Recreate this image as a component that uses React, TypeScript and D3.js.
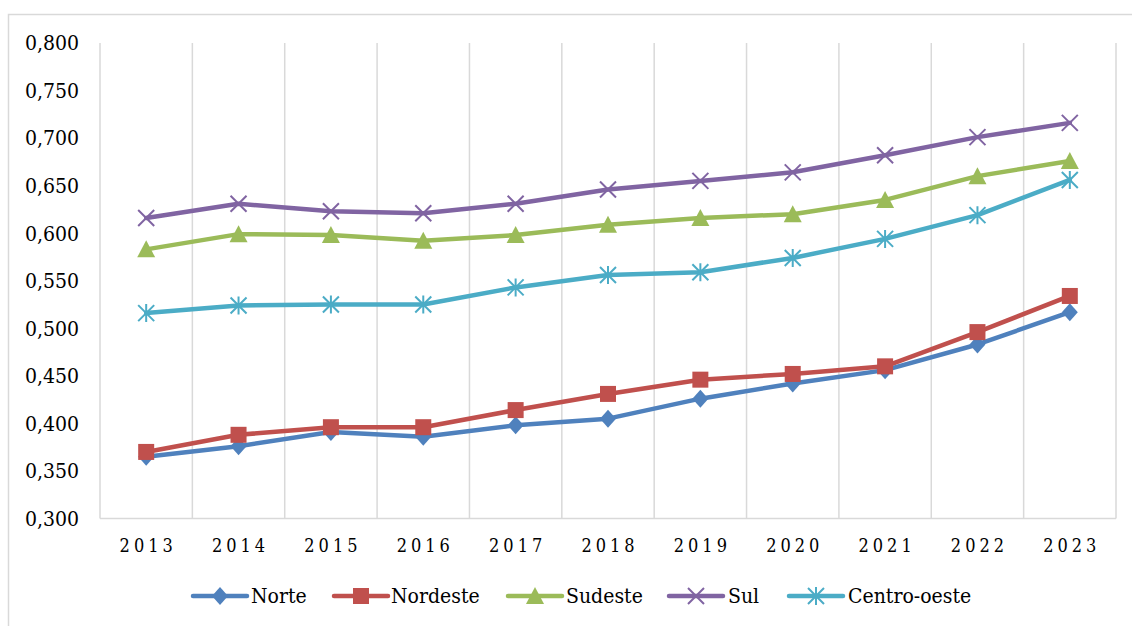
import React from "react";
import * as d3 from "d3";

const years = ["2013", "2014", "2015", "2016", "2017", "2018", "2019", "2020", "2021", "2022", "2023"];
const norte = [0.365, 0.376, 0.391, 0.386, 0.398, 0.405, 0.426, 0.442, 0.456, 0.483, 0.517];
const nordeste = [0.370, 0.388, 0.396, 0.396, 0.414, 0.431, 0.446, 0.452, 0.460, 0.496, 0.534];
const sudeste = [0.583, 0.599, 0.598, 0.592, 0.598, 0.609, 0.616, 0.620, 0.635, 0.660, 0.676];
const sul = [0.616, 0.631, 0.623, 0.621, 0.631, 0.646, 0.655, 0.664, 0.682, 0.701, 0.716];
const centroOeste = [0.516, 0.524, 0.525, 0.525, 0.543, 0.556, 0.559, 0.574, 0.594, 0.619, 0.656];
const yTicks = [0.3, 0.35, 0.4, 0.45, 0.5, 0.55, 0.6, 0.65, 0.7, 0.75, 0.8];

type Marker = "diamond" | "square" | "triangle" | "x" | "star";

const series: { name: string; values: number[]; color: string; marker: Marker }[] = [
  { name: "Norte", values: norte, color: "#4F81BD", marker: "diamond" },
  { name: "Nordeste", values: nordeste, color: "#C0504D", marker: "square" },
  { name: "Sudeste", values: sudeste, color: "#9BBB59", marker: "triangle" },
  { name: "Sul", values: sul, color: "#8064A2", marker: "x" },
  { name: "Centro-oeste", values: centroOeste, color: "#4BACC6", marker: "star" },
];

const W = 1132;
const H = 626;
const plot = { left: 100, right: 1116, top: 43, bottom: 518.5 };
const textStyle = { fontFamily: "'DejaVu Serif', serif", fontStretch: "condensed" as const };

function MarkerShape({ type, x, y, color }: { type: Marker; x: number; y: number; color: string }) {
  const s = 8;
  switch (type) {
    case "diamond":
      return <path d={`M${x},${y - s - 1}L${x + s},${y}L${x},${y + s + 1}L${x - s},${y}Z`} fill={color} />;
    case "square":
      return <rect x={x - s} y={y - s} width={2 * s} height={2 * s} fill={color} />;
    case "triangle":
      return <path d={`M${x},${y - s - 1}L${x + s + 1},${y + s}L${x - s - 1},${y + s}Z`} fill={color} />;
    case "x":
      return (
        <path d={`M${x - s},${y - s}L${x + s},${y + s}M${x - s},${y + s}L${x + s},${y - s}`} stroke={color} strokeWidth={2} />
      );
    case "star":
      return (
        <path
          d={`M${x - s},${y - s}L${x + s},${y + s}M${x - s},${y + s}L${x + s},${y - s}M${x},${y - s - 1}L${x},${y + s + 1}`}
          stroke={color}
          strokeWidth={2}
        />
      );
  }
}

export default function App() {
  const x = d3.scaleBand<string>().domain(years).range([plot.left, plot.right]);
  const y = d3.scaleLinear().domain([0.3, 0.8]).range([plot.bottom, plot.top]);
  const cx = (yr: string) => (x(yr) as number) + x.bandwidth() / 2;
  const line = d3
    .line<number>()
    .x((_, i) => cx(years[i]))
    .y((v) => y(v));
  const fmt = (v: number) => d3.format(".3f")(v).replace(".", ",");

  const legendItems = [
    { x0: 193, tx: 251 },
    { x0: 334, tx: 391 },
    { x0: 508, tx: 566 },
    { x0: 669, tx: 728 },
    { x0: 789, tx: 848 },
  ];
  const legendY = 596;

  return (
    <svg width={W} height={H} style={{ position: "absolute", left: 0, top: 0, background: "#fff" }}>
      <rect x={8.5} y={14.5} width={1200} height={700} fill="#fff" stroke="#d9d9d9" strokeWidth={1.5} />
      {/* vertical gridlines at category boundaries */}
      {years.map((yr) => (
        <line key={yr} x1={x(yr)} x2={x(yr)} y1={plot.top} y2={plot.bottom} stroke="#d9d9d9" strokeWidth={1.5} />
      ))}
      <line x1={plot.right} x2={plot.right} y1={plot.top} y2={plot.bottom} stroke="#d9d9d9" strokeWidth={1.5} />
      <line x1={plot.left} x2={plot.right} y1={plot.bottom} y2={plot.bottom} stroke="#d9d9d9" strokeWidth={1.5} />
      {/* y axis labels */}
      {yTicks.map((t) => (
        <text key={t} x={79} y={y(t)} dy="0.35em" textAnchor="end" fontSize={21} fill="#000" style={textStyle}>
          {fmt(t)}
        </text>
      ))}
      {/* x axis labels */}
      {years.map((yr) => (
        <text key={yr} x={cx(yr) + 2} y={552} textAnchor="middle" fontSize={18} letterSpacing={4} fill="#000" style={textStyle}>
          {yr}
        </text>
      ))}
      {/* series */}
      {series.map((s) => (
        <g key={s.name}>
          <path d={line(s.values) || ""} fill="none" stroke={s.color} strokeWidth={4.5} strokeLinejoin="round" strokeLinecap="round" />
          {s.values.map((v, i) => (
            <MarkerShape key={i} type={s.marker} x={cx(years[i])} y={y(v)} color={s.color} />
          ))}
        </g>
      ))}
      {/* legend */}
      {series.map((s, i) => {
        const it = legendItems[i];
        return (
          <g key={s.name}>
            <line x1={it.x0} x2={it.x0 + 54} y1={legendY} y2={legendY} stroke={s.color} strokeWidth={4.5} strokeLinecap="round" />
            <MarkerShape type={s.marker} x={it.x0 + 27} y={legendY} color={s.color} />
            <text x={it.tx} y={legendY} dy="0.35em" fontSize={21} fill="#000" style={textStyle}>
              {s.name}
            </text>
          </g>
        );
      })}
    </svg>
  );
}
